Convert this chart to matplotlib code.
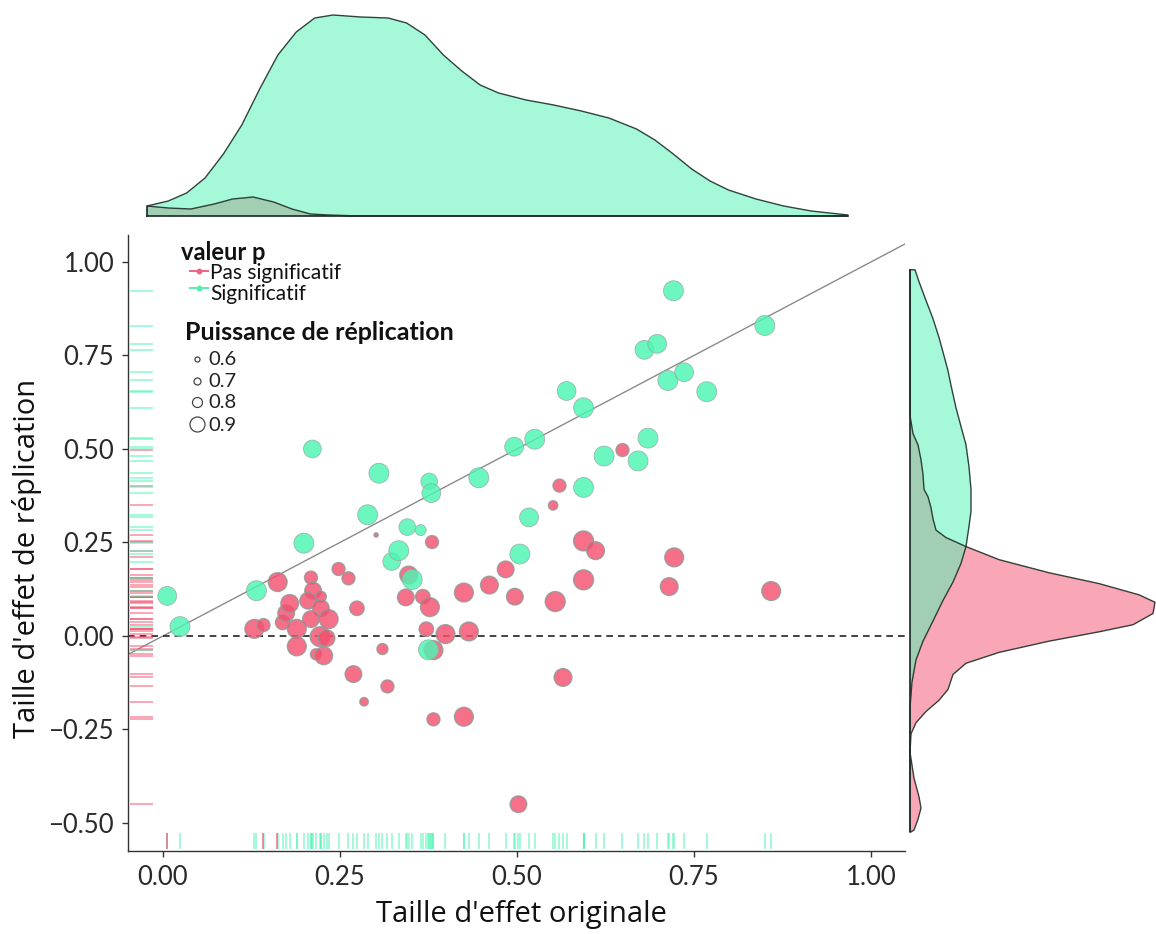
import numpy as np
import matplotlib
matplotlib.use("Agg")
import matplotlib.pyplot as plt

# ---------------- data ----------------
sig_x = [0.006, 0.024, 0.132, 0.199, 0.211, 0.289, 0.305, 0.323, 0.333, 0.345, 0.364,
         0.352, 0.376, 0.379, 0.375, 0.446, 0.496, 0.525, 0.504, 0.517, 0.570, 0.594,
         0.594, 0.623, 0.671, 0.685, 0.680, 0.698, 0.713, 0.736, 0.768, 0.721, 0.850]
sig_y = [0.107, 0.025, 0.121, 0.248, 0.500, 0.324, 0.435, 0.199, 0.228, 0.291, 0.283,
         0.151, 0.413, 0.382, -0.037, 0.423, 0.506, 0.526, 0.219, 0.317, 0.655, 0.610,
         0.397, 0.481, 0.468, 0.529, 0.765, 0.781, 0.683, 0.705, 0.653, 0.923, 0.830]
sig_power = [0.97, 0.99, 0.99, 0.99, 0.95, 0.99, 0.99, 0.95, 0.99, 0.93, 0.82,
             0.99, 0.93, 0.97, 0.99, 0.99, 0.97, 0.99, 0.99, 0.97, 0.97, 0.99,
             0.99, 0.99, 0.99, 0.99, 0.97, 0.97, 0.99, 0.97, 0.99, 0.99, 0.99]

ns_x = [0.129, 0.142, 0.162, 0.169, 0.174, 0.179, 0.189, 0.189, 0.209, 0.212, 0.223,
        0.205, 0.223, 0.209, 0.234, 0.222, 0.231, 0.216, 0.227, 0.248, 0.262, 0.274,
        0.310, 0.269, 0.317, 0.284, 0.301, 0.380, 0.347, 0.343, 0.367, 0.377, 0.372,
        0.399, 0.432, 0.382, 0.382, 0.425, 0.425, 0.461, 0.484, 0.497, 0.554, 0.565,
        0.502, 0.551, 0.560, 0.649, 0.594, 0.611, 0.594, 0.722, 0.715, 0.859]
ns_y = [0.019, 0.029, 0.144, 0.036, 0.061, 0.087, 0.019, -0.028, 0.156, 0.121, 0.105,
        0.094, 0.074, 0.045, 0.045, -0.002, -0.006, -0.049, -0.053, 0.179, 0.154, 0.074,
        -0.035, -0.102, -0.135, -0.176, 0.270, 0.251, 0.163, 0.103, 0.105, 0.077, 0.018,
        0.005, 0.012, -0.038, -0.223, -0.216, 0.116, 0.136, 0.178, 0.105, 0.092, -0.111,
        -0.450, 0.349, 0.402, 0.497, 0.254, 0.228, 0.150, 0.210, 0.132, 0.120]
ns_power = [0.97, 0.86, 0.97, 0.89, 0.93, 0.95, 0.97, 0.97, 0.86, 0.93, 0.82,
            0.93, 0.93, 0.93, 0.97, 0.99, 0.93, 0.82, 0.95, 0.86, 0.86, 0.89,
            0.82, 0.93, 0.86, 0.75, 0.57, 0.86, 0.95, 0.93, 0.89, 0.97, 0.89,
            0.97, 0.97, 0.97, 0.86, 0.97, 0.97, 0.95, 0.93, 0.93, 0.99, 0.95,
            0.93, 0.78, 0.86, 0.86, 0.99, 0.95, 0.99, 0.97, 0.95, 0.97]

# extra rug marks read from the bottom rug (non-significant colour)
rug_x_ns = [0.005, 0.141, 0.161]

# marginal density of original effect (top)
top_x = [-0.023, 0.007, 0.033, 0.059, 0.085, 0.111, 0.137, 0.162, 0.188, 0.214, 0.240,
         0.279, 0.318, 0.344, 0.370, 0.396, 0.422, 0.448, 0.474, 0.513, 0.552, 0.591,
         0.630, 0.669, 0.695, 0.721, 0.747, 0.773, 0.799, 0.838, 0.877, 0.916, 0.968]
top_sig = [0.10, 0.15, 0.23, 0.38, 0.62, 0.91, 1.28, 1.61, 1.84, 1.98, 2.01,
           1.99, 1.98, 1.93, 1.81, 1.61, 1.45, 1.31, 1.23, 1.16, 1.11, 1.05,
           0.98, 0.87, 0.76, 0.62, 0.47, 0.35, 0.26, 0.17, 0.10, 0.05, 0.01]
top_ns_x = [-0.023, 0.007, 0.039, 0.072, 0.098, 0.127, 0.156, 0.182, 0.208, 0.234, 0.279, 0.968]
top_ns = [0.10, 0.08, 0.07, 0.12, 0.17, 0.19, 0.14, 0.07, 0.02, 0.01, 0.0, 0.0]

# marginal density of replication effect (right)
right_sig_y = [0.979, 0.947, 0.897, 0.848, 0.798, 0.749, 0.709, 0.670, 0.610, 0.560, 0.511,
               0.452, 0.392, 0.333, 0.293, 0.239, 0.194, 0.144, 0.095, 0.040, -0.014,
               -0.064, -0.123, -0.182, -0.232, -0.524]
right_sig = [0.05, 0.09, 0.16, 0.23, 0.29, 0.34, 0.38, 0.41, 0.46, 0.51, 0.56,
             0.59, 0.61, 0.61, 0.59, 0.56, 0.51, 0.43, 0.33, 0.23, 0.13,
             0.06, 0.02, 0.003, 0.0, 0.0]
right_ns_y = [0.979, 0.590, 0.541, 0.511, 0.471, 0.432, 0.392, 0.372, 0.343, 0.313, 0.283,
              0.263, 0.239, 0.204, 0.169, 0.140, 0.110, 0.090, 0.060, 0.030, 0.011,
              -0.014, -0.044, -0.073, -0.103, -0.143, -0.172, -0.202, -0.232, -0.262,
              -0.311, -0.380, -0.430, -0.460, -0.490, -0.519, -0.524]
right_ns = [0.0, 0.0, 0.03, 0.08, 0.11, 0.13, 0.14, 0.18, 0.21, 0.23, 0.26,
            0.36, 0.56, 0.89, 1.39, 1.89, 2.29, 2.45, 2.43, 2.23, 1.89,
            1.39, 0.89, 0.56, 0.43, 0.38, 0.29, 0.16, 0.06, 0.01,
            0.0, 0.04, 0.09, 0.11, 0.08, 0.04, 0.01]

x_ticks = [0.0, 0.25, 0.5, 0.75, 1.0]
x_ticklabels = ["0.00", "0.25", "0.50", "0.75", "1.00"]
y_ticks = [-0.5, -0.25, 0.0, 0.25, 0.5, 0.75, 1.0]
y_ticklabels = ["\u22120.50", "\u22120.25", "0.00", "0.25", "0.50", "0.75", "1.00"]
legend_powers = [0.6, 0.7, 0.8, 0.9]
legend_power_labels = ["0.6", "0.7", "0.8", "0.9"]
group_labels = ["Pas significatif", "Significatif"]

# ---------------- style ----------------
plt.rcParams['font.family'] = ['Lato', 'DejaVu Sans']
W, H = 1156, 934
PINK = '#F4506F'
GREEN = '#4CF5B3'
PT_PER_PX = 72 / 100


def size_px(p):
    return np.interp(p, [0.5, 0.6, 0.7, 0.8, 0.9, 1.0], [2.5, 5, 7, 10, 15, 20.5])


def s_area(p):
    return (size_px(np.asarray(p)) * PT_PER_PX) ** 2


def fx(px):
    return px / W


def fy(py):
    return 1 - py / H


fig = plt.figure(figsize=(W / 100, H / 100), dpi=100)

# main axes
ax = fig.add_axes([fx(128), fy(851), (905 - 128) / W, (851 - 235) / H])
ax.set_xlim(-0.0494, 1.048)
ax.set_ylim(-0.575, 1.072)
for sp in ['top', 'right']:
    ax.spines[sp].set_visible(False)
for sp in ['left', 'bottom']:
    ax.spines[sp].set_color('#333333')
    ax.spines[sp].set_linewidth(1.0)
ax.tick_params(length=4, width=1, color='#333333', labelsize=18.5, pad=6, labelcolor='#2a2a2a')
ax.set_xticks(x_ticks)
ax.set_xticklabels(x_ticklabels)
ax.set_yticks(y_ticks)
ax.set_yticklabels(y_ticklabels)

# reference lines
ax.axline((0, 0), slope=1, color='#8a8a8a', lw=1.0, zorder=1)
ax.axhline(0, color='#222222', lw=1.2, ls=(0, (4, 3)), zorder=1)

# rugs
xt = ax.get_xaxis_transform()
yt = ax.get_yaxis_transform()
ax.vlines(list(sig_x) + list(ns_x), 0.003, 0.03, transform=xt, color=GREEN, alpha=0.55, lw=1.3)
ax.vlines(rug_x_ns, 0.003, 0.03, transform=xt, color=PINK, alpha=0.7, lw=1.3)
ax.hlines(ns_y, 0.003, 0.032, transform=yt, color=PINK, alpha=0.55, lw=1.3)
ax.hlines(sig_y, 0.003, 0.032, transform=yt, color=GREEN, alpha=0.55, lw=1.3)

# scatter
ax.scatter(ns_x, ns_y, s=s_area(ns_power), c=PINK, alpha=0.82, edgecolors='#8f9a96',
           linewidths=1.0, zorder=3)
ax.scatter(sig_x, sig_y, s=s_area(sig_power), c=GREEN, alpha=0.82, edgecolors='#9aa8a2',
           linewidths=0.6, zorder=3)

# axis titles
fig.text(fx(521), fy(922), "Taille d'effet originale", ha='center', va='baseline',
         fontsize=21, family=['Open Sans', 'DejaVu Sans'], color='#111111')
fig.text(fx(27), fy(558), "Taille d'effet de réplication", ha='center', va='center',
         rotation=90, fontsize=21, family=['Open Sans', 'DejaVu Sans'], color='#111111')

# top marginal density
axt = fig.add_axes([fx(147), fy(216), 701 / W, 203 / H])
axt.set_xlim(top_x[0], top_x[-1])
axt.set_ylim(0, 2.03)
axt.axis('off')
axt.fill_between(top_ns_x, 0, top_ns, facecolor=PINK, alpha=0.5, edgecolor='none', clip_on=False)
axt.fill_between(top_x, 0, top_sig, facecolor=GREEN, alpha=0.5, edgecolor='none', clip_on=False)
for xs, ys in [(top_ns_x, top_ns), (top_x, top_sig)]:
    px = [xs[0]] + list(xs) + [xs[-1], xs[0]]
    py = [0] + list(ys) + [0, 0]
    axt.plot(px, py, color='#1f2f28', lw=1.0, clip_on=False, alpha=0.9)

# right marginal density
axr = fig.add_axes([fx(910), fy(851), (W - 910) / W, (851 - 235) / H])
axr.set_ylim(-0.575, 1.072)
axr.set_xlim(0, 2.46)
axr.axis('off')
axr.fill_betweenx(right_ns_y, 0, right_ns, facecolor=PINK, alpha=0.5, edgecolor='none', clip_on=False)
axr.fill_betweenx(right_sig_y, 0, right_sig, facecolor=GREEN, alpha=0.5, edgecolor='none', clip_on=False)
for ys, xs in [(right_ns_y, right_ns), (right_sig_y, right_sig)]:
    py = [ys[0]] + list(ys) + [ys[-1], ys[0]]
    px = [0] + list(xs) + [0, 0]
    axr.plot(px, py, color='#1f2f28', lw=1.0, clip_on=False, alpha=0.9)

# legend (drawn manually)
fig.text(fx(181), fy(260), "valeur p", fontsize=17, fontweight='bold', color='#111111',
         va='baseline', ha='left')
key_colors = ['#EE6282', '#5BEBB2']
key_y = [271, 288]
lab_base = [279, 300]
for lab, col, ky, lb in zip(group_labels, key_colors, key_y, lab_base):
    fig.add_artist(plt.Line2D([fx(190), fx(208)], [fy(ky), fy(ky)], color=col, lw=1.4,
                              transform=fig.transFigure))
    fig.add_artist(plt.Line2D([fx(199)], [fy(ky)], color=col, marker='o', ms=3.2,
                              transform=fig.transFigure))
    fig.text(fx(210), fy(lb), lab, fontsize=15, color='#111111', va='baseline', ha='left')

fig.text(fx(185), fy(340), "Puissance de réplication", fontsize=18, fontweight='bold',
         color='#111111', va='baseline', ha='left')
circ_y = [359, 380.7, 401.7, 424]
lab_y = [365, 386.7, 408.3, 431]
for p, lab, cy, ly in zip(legend_powers, legend_power_labels, circ_y, lab_y):
    fig.add_artist(plt.Line2D([fx(197)], [fy(cy)], marker='o', ms=size_px(p) * PT_PER_PX,
                              mfc='white', mec='#444444', mew=0.9, ls='none',
                              transform=fig.transFigure))
    fig.text(fx(208), fy(ly), lab, fontsize=14.5, color='#222222',
             va='baseline', ha='left')

fig.savefig('out.png', dpi=100, facecolor='white')
